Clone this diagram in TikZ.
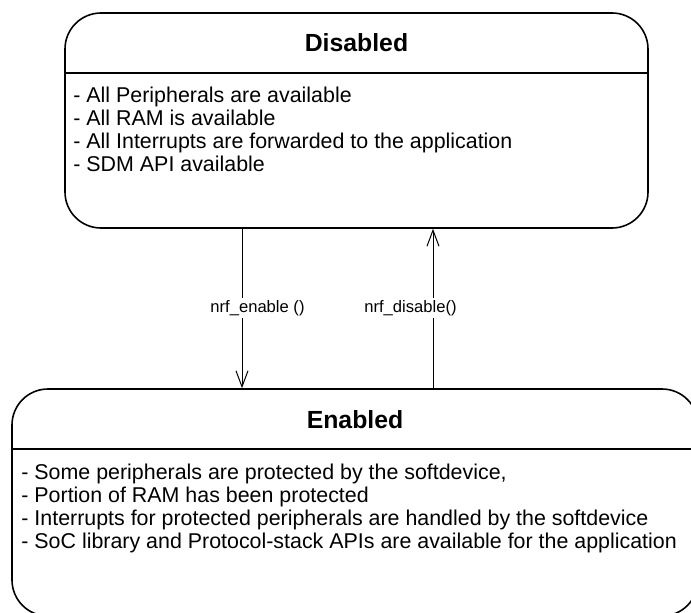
\documentclass[tikz,border=0pt]{standalone}
\usepackage{fontspec}
\setmainfont{Liberation Sans}
\usetikzlibrary{arrows.meta}

\begin{document}
\begin{tikzpicture}[
    x=0.5pt, y=0.5pt,
    >={Straight Barb[length=8pt,width=6pt]},
    state/.style={draw, line width=0.8pt, rounded corners=18pt, inner sep=0pt},
    statetitle/.style={anchor=base, inner sep=0pt, font=\bfseries\fontsize{12.4}{14}\selectfont},
    statebody/.style={anchor=base west, align=left, inner sep=0pt, font=\fontsize{10.7}{11.5}\selectfont},
    divider/.style={line width=0.8pt},
    trans/.style={->, line width=0.5pt},
    translabel/.style={fill=white, inner sep=1pt, font=\fontsize{8.3}{10}\selectfont}
]
\useasboundingbox (0,0) rectangle (691,612);

% Disabled state
\node[state, minimum width=291.5pt, minimum height=107.5pt] (disabled) at (356.5,491.5) {};
\node[statetitle] (disabledtitle) at (356.5,560) {Disabled};
\coordinate (disabledsep) at (0,539);
\draw[divider] (disabled.west |- disabledsep) -- (disabled.east |- disabledsep);
% base of a multi-line node = baseline of its last line
\node[statebody] (disabledbody) at (73,441) {- All Peripherals are available\\
- All RAM is available\\
- All Interrupts are forwarded to the application\\
- SDM API available};

% Enabled state
\node[state, minimum width=343pt, minimum height=113.5pt] (enabled) at (355,109.5) {};
\node[statetitle] (enabledtitle) at (355,184) {Enabled};
\coordinate (enabledsep) at (0,163);
\draw[divider] (enabled.west |- enabledsep) -- (enabled.east |- enabledsep);
\node[statebody] (enabledbody) at (21,64) {- Some peripherals are protected by the softdevice,\\
- Portion of RAM has been protected\\
- Interrupts for protected peripherals are handled by the softdevice\\
- SoC library and Protocol-stack APIs are available for the application};

% Transitions
\coordinate (enablecol) at (242,0);
\coordinate (disablecol) at (433,0);
\draw[trans] (disabled.south -| enablecol) -- (enabled.north -| enablecol);
\draw[trans] (enabled.north -| disablecol) -- (disabled.south -| disablecol);
\node[translabel] (enablelabel) at (257.5,304) {nrf\_enable ()};
\node[translabel] (disablelabel) at (410.5,304) {nrf\_disable()};

\end{tikzpicture}
\end{document}
